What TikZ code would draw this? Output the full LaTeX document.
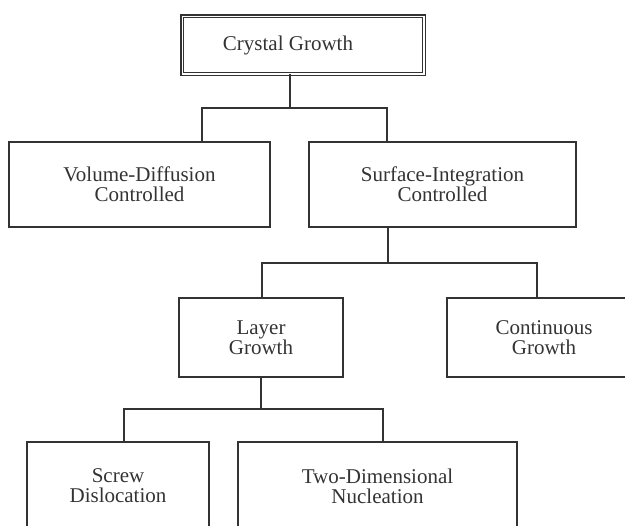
\documentclass[tikz,border=0pt]{standalone}
\usepackage{fontspec}
\setmainfont{Liberation Serif}
\usepackage{tikz}
\usetikzlibrary{positioning}
\definecolor{linie}{HTML}{333333}

\begin{document}
\begin{tikzpicture}[x=0.5pt, y=-0.5pt,
        box/.style={draw=linie, line width=0.8pt, align=center, inner sep=0pt,
                    outer sep=0pt, text=linie, font=\fontsize{10.5}{10}\selectfont},
        topbox/.style={box, double, double distance=0.7pt, line width=0.75pt},
        conn/.style={draw=linie, line width=0.8pt}
      ]
      \useasboundingbox (0,0) rectangle (625,525);
      \clip (0,0) rectangle (625,525);

      % Boxen von oben nach unten
      \node[topbox, minimum width=120.8pt, minimum height=28.8pt] (cg) at (303,45)
           {Crystal Growth\hspace*{15pt}};

      \node[box, minimum width=130.5pt, minimum height=42.5pt] (vd) at (139.5,184.5)
           {Volume-Diffusion\\Controlled};
      \node[box, minimum width=133.5pt, minimum height=42.5pt] (si) at (442.5,184.5)
           {Surface-Integration\\Controlled};

      \node[box, minimum width=82pt, minimum height=39.5pt] (lg) at (261,337.5)
           {Layer\\Growth};
      \node[box, minimum width=97pt, minimum height=39.5pt] (cgr) at (544,337.5)
           {Continuous\\Growth};

      \node[box, minimum width=91pt, minimum height=44pt] (sd) at (118,486)
           {Screw\\Dislocation};
      \node[box, minimum width=139.5pt, minimum height=44pt] (tdn) at (377.5,486)
           {Two-Dimensional\\Nucleation};

      % Verbindungen
      \coordinate (k1) at (290,108);
      \coordinate (k1l) at (202,108);
      \coordinate (k1r) at (387,108);
      \draw[conn] (cg.south -| k1) -- (k1);
      \draw[conn] (k1l |- vd.north) -- (k1l) -- (k1r) -- (k1r |- si.north);

      \coordinate (k2) at (388,263);
      \coordinate (k2l) at (262,263);
      \coordinate (k2r) at (537,263);
      \draw[conn] (si.south -| k2) -- (k2);
      \draw[conn] (k2l |- lg.north) -- (k2l) -- (k2r) -- (k2r |- cgr.north);

      \coordinate (k3) at (261,409);
      \coordinate (k3l) at (124,409);
      \coordinate (k3r) at (383,409);
      \draw[conn] (lg.south -| k3) -- (k3);
      \draw[conn] (k3l |- sd.north) -- (k3l) -- (k3r) -- (k3r |- tdn.north);
    \end{tikzpicture}
\end{document}
